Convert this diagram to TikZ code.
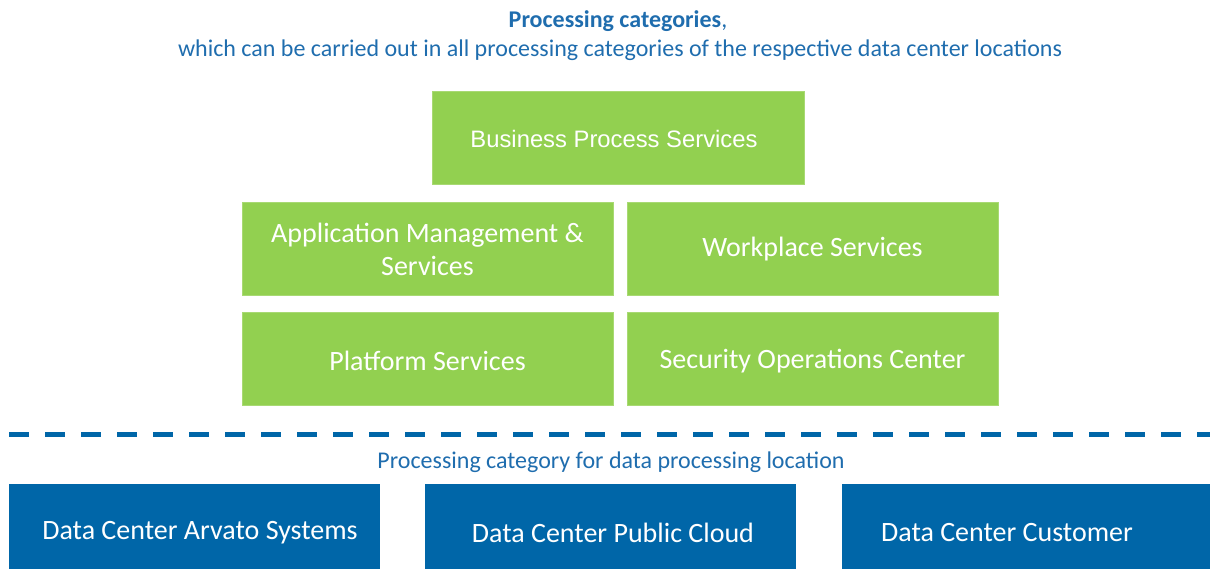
\documentclass[tikz,border=0pt]{standalone}
\usepackage{fontspec}
\setmainfont{Carlito}
\newfontfamily\arialf{Liberation Sans}
\definecolor{grn}{HTML}{92D050}
\definecolor{dblue}{HTML}{0066A8}
\definecolor{tblue}{HTML}{1F6DAE}
\begin{document}
\begin{tikzpicture}[x=1pt,y=-1pt,
  gfill/.style={fill=grn,draw=grn!80!white,line width=0.8pt},
  gtxt/.style={text=white,align=center,inner sep=0pt,font=\fontsize{28}{33}\selectfont},
  bbox/.style={text=white,inner sep=0pt,font=\fontsize{28}{33}\selectfont},
  ttl/.style={text=tblue,inner sep=0pt,font=\fontsize{24}{28}\selectfont}]
\useasboundingbox (0,0) rectangle (1210,569);
\node[ttl,font=\fontsize{24}{28}\selectfont\bfseries] (t1) at (618,21) {Processing categories\mdseries,};
\node[ttl] (t2) at (620,50) {which can be carried out in all processing categories of the respective data center locations};
\path[gfill] (432,91) rectangle (804,184);
\node[gtxt,font=\arialf\fontsize{23.8}{28}\selectfont] (bps) at (614,139) {Business Process Services};
\path[gfill] (242,202) rectangle (613,295);
\node[gtxt] (ams) at (427.5,249) {Application Management \&\\Services};
\path[gfill] (627,202) rectangle (998,295);
\node[gtxt] (ws) at (812.5,249) {Workplace Services};
\path[gfill] (242,312) rectangle (613,405);
\node[gtxt] (ps) at (427.5,361) {Platform Services};
\path[gfill] (627,312) rectangle (998,405);
\node[gtxt] (soc) at (812.5,361) {Security Operations Center};
\coordinate (l1) at (9,434);
\coordinate (l2) at (1210,434);
\draw[dblue,line width=5pt,dash pattern=on 20pt off 16pt] (l1) -- (l2);
\node[ttl] (sub) at (611,462) {Processing category for data processing location};
\fill[dblue] (9,484) rectangle (380,569);
\node[bbox] (dc1) at (200,533) {Data Center Arvato Systems};
\fill[dblue] (425,484) rectangle (796,569);
\node[bbox] (dc2) at (613,533) {Data Center Public Cloud};
\fill[dblue] (842,484) rectangle (1210,569);
\node[bbox] (dc3) at (1007,533) {Data Center Customer};
\end{tikzpicture}
\end{document}
